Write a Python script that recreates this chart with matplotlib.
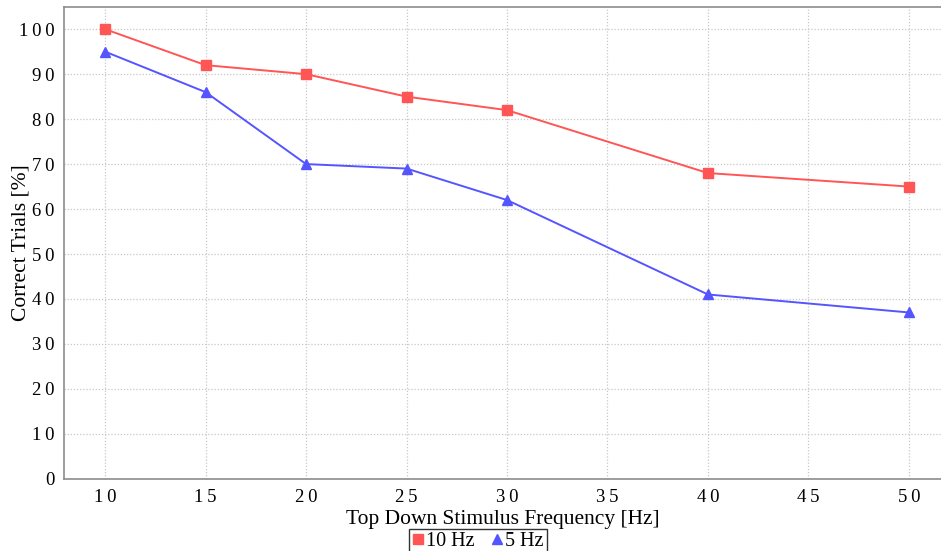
import matplotlib
matplotlib.use("Agg")
import matplotlib.pyplot as plt
import matplotlib.ticker as mticker

freq_hz = [10, 15, 20, 25, 30, 40, 50]
correct_10hz = [100, 92, 90, 85, 82, 68, 65]
correct_5hz = [95, 86, 70, 69, 62, 41, 37]

RED = "#FF5555"
BLUE = "#5555FF"
SPINE = "#8C8C8C"

plt.rcParams["font.family"] = ["Liberation Serif", "DejaVu Serif"]


def spaced(x, _):
    # digits drawn with a thin gap between them
    return "\u2009".join(str(int(round(x))))


fig = plt.figure(figsize=(9.41, 5.51), dpi=100)
ax = fig.add_axes([0.068, 0.131, 0.932, 0.856])

ax.plot(freq_hz, correct_10hz, color=RED, marker="s", markersize=6.5,
        linewidth=1.4, label="10 Hz")
ax.plot(freq_hz, correct_5hz, color=BLUE, marker="^", markersize=7,
        linewidth=1.4, label="5 Hz")

ax.set_xlim(7.95, 51.6)
ax.set_ylim(0, 104.9)
ax.xaxis.set_major_locator(mticker.MultipleLocator(5))
ax.yaxis.set_major_locator(mticker.MultipleLocator(10))
ax.xaxis.set_major_formatter(mticker.FuncFormatter(spaced))
ax.yaxis.set_major_formatter(mticker.FuncFormatter(spaced))
ax.tick_params(length=0, labelsize=13.5, pad=7)

ax.grid(True, color="#C8C8C8", linestyle=(0, (1, 1.5)), linewidth=0.9)
ax.set_axisbelow(True)
for side in ("left", "bottom", "top"):
    ax.spines[side].set_color(SPINE)
    ax.spines[side].set_linewidth(1.2)
ax.spines["right"].set_visible(False)

ax.set_xlabel("Top Down Stimulus Frequency [Hz]", fontsize=15.5, labelpad=3)
ax.set_ylabel("Correct Trials [%]", fontsize=15.5)
ax.yaxis.set_label_coords(-0.038, 0.5)

leg = fig.legend(loc="lower center", bbox_to_anchor=(0.508, -0.005), ncol=2,
                 fontsize=14.5, frameon=True, fancybox=False, handlelength=0.6,
                 handletextpad=0.1, columnspacing=0.8, borderpad=0.15,
                 borderaxespad=0)
leg.get_frame().set_edgecolor("#000000")
leg.get_frame().set_linewidth(1.0)
for h in leg.legend_handles:
    h.set_linestyle("none")

fig.savefig("out.png", dpi=100)
